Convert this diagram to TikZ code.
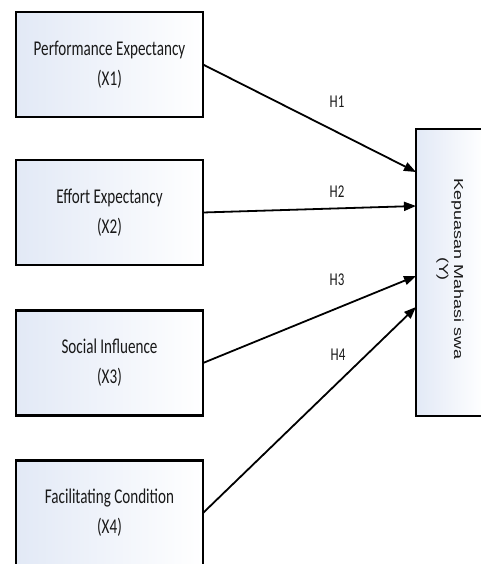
\documentclass[tikz,border=0pt]{standalone}
\usepackage{fontspec}
\usetikzlibrary{arrows.meta,positioning}
\newfontfamily\boxfont[FakeStretch=0.72]{Carlito}
\newfontfamily\yfont[FakeStretch=1.38]{Liberation Sans}
\definecolor{boxleft}{RGB}{226,233,246}
\definecolor{txt}{RGB}{25,25,25}
\tikzset{
  varbox/.style={draw=black, line width=2.6pt, left color=boxleft, right color=white,
    minimum width=187pt, minimum height=105pt, inner sep=0pt, outer sep=0pt,
    align=center, text=txt, font=\boxfont\fontsize{21}{30}\selectfont},
  ybox/.style={draw=black, line width=2.6pt, left color=boxleft, right color=white,
    minimum width=68pt, minimum height=287pt, inner sep=0pt, outer sep=0pt},
  hyp/.style={-{Triangle[length=12pt,width=9pt]}, line width=1.8pt, black},
  hlabel/.style={text=txt, font=\boxfont\fontsize{18}{20}\selectfont, inner sep=0pt}
}
\begin{document}
\begin{tikzpicture}[x=1pt,y=-1pt]
\useasboundingbox (0,0) rectangle (481,564);
\clip (0,0) rectangle (481,564);
\node[varbox] (x1) at (109.5,64.5) {Performance Expectancy\\(X1)};
\node[varbox] (x2) at (109.5,212.5) {Effort Expectancy\\(X2)};
\node[varbox] (x3) at (109.5,363) {Social Influence\\(X3)};
\node[varbox] (x4) at (109.5,513) {Facilitating Condition\\(X4)};
\node[ybox] (y) at (450,272.5) {};
\node[rotate=-90, align=center, text=txt, font=\yfont\fontsize{13}{15}\selectfont, inner sep=0pt] (ylab) at (450,269) {Kepuasan Mahasi swa\\(Y)};
\coordinate (t1) at ([yshift=-43pt]y.north west);
\coordinate (t2) at ([yshift=-77pt]y.north west);
\coordinate (t3) at ([yshift=-147pt]y.north west);
\coordinate (t4) at ([yshift=-178pt]y.north west);
\draw[hyp] (x1.east) -- (t1);
\draw[hyp] (x2.east) -- (t2);
\draw[hyp] (x3.east) -- (t3);
\draw[hyp] (x4.east) -- (t4);
\node[hlabel] (h1) at (337,102) {H1};
\node[hlabel] (h2) at (337,192) {H2};
\node[hlabel] (h3) at (337,280) {H3};
\node[hlabel] (h4) at (338,355) {H4};
\end{tikzpicture}
\end{document}
